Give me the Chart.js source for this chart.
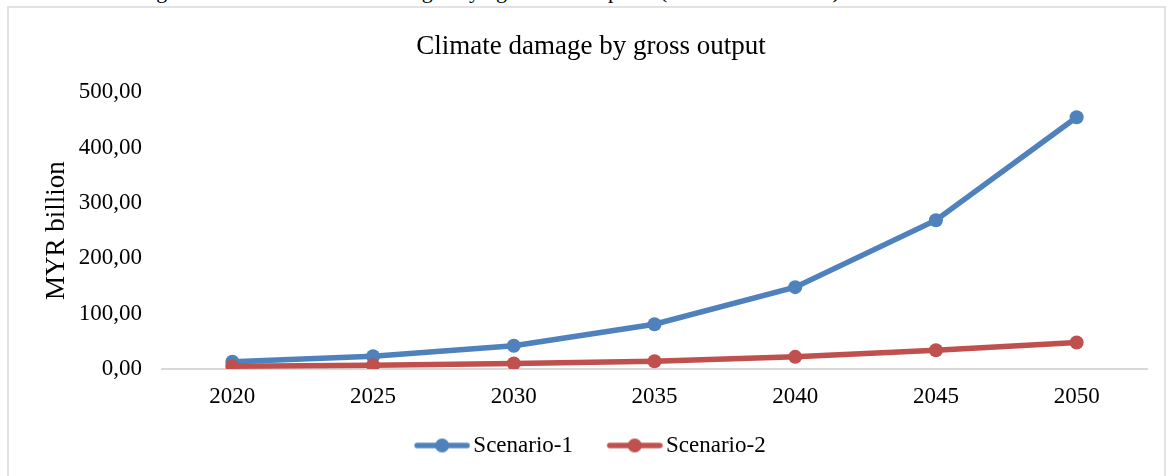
<!DOCTYPE html>
<html>
<head>
<meta charset="utf-8">
<script src="https://cdn.jsdelivr.net/npm/chart.js@4/dist/chart.umd.min.js"></script>
<style>
  html, body { margin: 0; padding: 0; background: #ffffff; overflow: hidden; }
  body { width: 1169px; height: 476px; position: relative; }
  #caption { position: absolute; left: 0; top: -20px; width: 1169px; height: 26px;
             font: 22px "Liberation Serif", serif; line-height: 22px; color: #000; }
  #caption span { position: absolute; top: 0; white-space: nowrap; }
  #frame { position: absolute; left: 7px; top: 6px; width: 1159px; height: 520px;
           border: 2px solid #e2e2e2; box-sizing: border-box; }
  #chart { position: absolute; left: 0; top: 0; }
</style>
</head>
<body>
<div id="caption">
  <span style="left:138px">Figure</span>
  <span style="left:206px">4.3:</span>
  <span style="left:268px">Climate</span>
  <span style="left:374px">damage</span>
  <span style="left:458px">by</span>
  <span style="left:496px">gross</span>
  <span style="left:580px">output</span>
  <span style="left:660px">(MYR</span>
  <span style="left:775px">billion)</span>
</div>
<div id="frame"></div>
<canvas id="chart" width="1169" height="467"></canvas>
<script>
// Climate damage by gross output, MYR billion
const categories = ['2020', '2025', '2030', '2035', '2040', '2045', '2050'];
const scenario1 = [13, 23, 42, 81, 148, 269, 455];
const scenario2 = [5, 7, 10, 14, 22, 34, 48];
const yTicks = [0, 100, 200, 300, 400, 500];
const seriesNames = ['Scenario-1', 'Scenario-2'];

const BLUE = '#4f81bd';
const RED = '#c0504d';
const SERIF = '"Liberation Serif", "Times New Roman", serif';

// Legend marker: a short thick line with a dot in its middle
function legendMarker(color) {
  const c = document.createElement('canvas');
  c.width = 78; c.height = 16;
  const g = c.getContext('2d');
  g.strokeStyle = color;
  g.lineWidth = 5.5;
  g.lineCap = 'round';
  g.beginPath();
  g.moveTo(25, 8); g.lineTo(75, 8);
  g.stroke();
  g.fillStyle = color;
  g.beginPath();
  g.arc(50, 8, 7, 0, Math.PI * 2);
  g.fill();
  return c;
}
const markers = [legendMarker(BLUE), legendMarker(RED)];

const fmt = v => v.toFixed(2).replace('.', ',');

// Centre the title over the frame rather than over the legend row
const titleNudge = {
  id: 'titleNudge',
  afterLayout(chart) {
    const t = chart.titleBlock;
    if (t) { t.left += 8; t.right += 8; }
  }
};

new Chart(document.getElementById('chart'), {
  type: 'line',
  data: {
    labels: categories,
    datasets: [
      {
        label: seriesNames[0], data: scenario1, order: 1,
        borderColor: BLUE, backgroundColor: BLUE, borderWidth: 5.5,
        pointRadius: 7, pointHoverRadius: 7, pointBorderWidth: 0,
        pointBackgroundColor: BLUE, tension: 0, fill: false
      },
      {
        label: seriesNames[1], data: scenario2, order: 0,
        borderColor: RED, backgroundColor: RED, borderWidth: 5.5,
        pointRadius: 7, pointHoverRadius: 7, pointBorderWidth: 0,
        pointBackgroundColor: RED, tension: 0, fill: false
      }
    ]
  },
  plugins: [titleNudge],
  options: {
    responsive: false,
    animation: false,
    devicePixelRatio: 1,
    layout: { padding: { left: 19, right: 22, top: 0, bottom: 0 } },
    plugins: {
      title: {
        display: true,
        text: 'Climate damage by gross output',
        color: '#000',
        font: { family: SERIF, size: 27, weight: 'normal' },
        padding: { top: 31, bottom: 29 }
      },
      legend: {
        display: true,
        position: 'bottom',
        labels: {
          color: '#000',
          font: { family: SERIF, size: 23 },
          usePointStyle: true,
          pointStyleWidth: 61.5,
          padding: 20,
          generateLabels: chart => chart.data.datasets.map((ds, i) => ({
            text: ds.label,
            fillStyle: ds.borderColor,
            strokeStyle: ds.borderColor,
            lineWidth: 0,
            pointStyle: markers[i],
            hidden: !chart.isDatasetVisible(i),
            datasetIndex: i,
            fontColor: '#000'
          }))
        }
      },
      tooltip: { enabled: false }
    },
    scales: {
      x: {
        type: 'category',
        offset: true,
        grid: { display: false, drawTicks: false },
        border: { display: true, color: '#d9d9d9', width: 2 },
        ticks: { color: '#000', font: { family: SERIF, size: 23 }, padding: 14, maxRotation: 0 },
        afterFit: s => { s.height = 45; }
      },
      y: {
        min: 0,
        max: 500,
        afterBuildTicks: s => { s.ticks = yTicks.map(v => ({ value: v })); },
        grid: { display: false, drawTicks: false },
        border: { display: false },
        ticks: { color: '#000', font: { family: SERIF, size: 23 }, padding: 20, callback: v => fmt(v) },
        title: {
          display: true, text: 'MYR billion', color: '#000',
          font: { family: SERIF, size: 27 }, padding: { top: 22, bottom: 0 }
        },
        afterFit: s => { s.width = 143; }
      }
    }
  }
});
</script>
</body>
</html>
